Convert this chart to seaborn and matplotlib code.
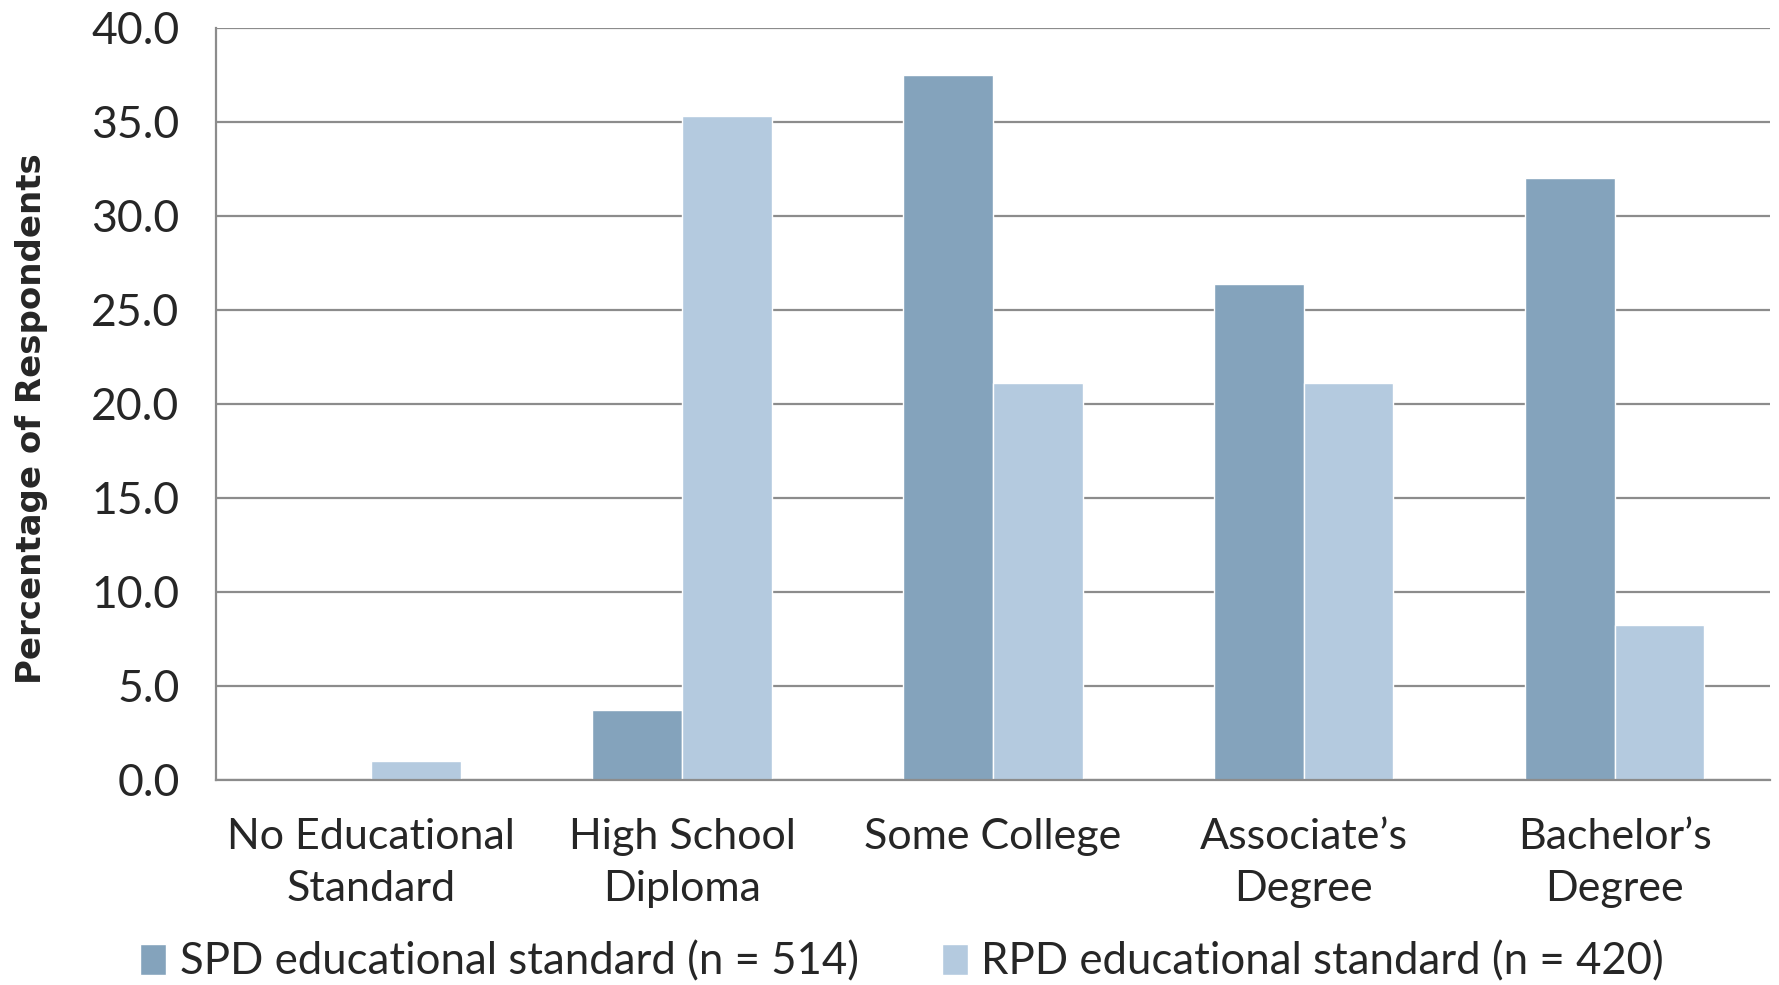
import pandas as pd
import matplotlib
matplotlib.use("Agg")
import matplotlib.pyplot as plt
import seaborn as sns

# values
categories = ["No Educational\nStandard", "High School\nDiploma", "Some College",
              "Associate\u2019s\nDegree", "Bachelor\u2019s\nDegree"]
spd_values = [0.0, 3.7, 37.5, 26.4, 32.0]
rpd_values = [1.0, 35.3, 21.1, 21.1, 8.2]
series_names = ["SPD educational standard (n = 514)", "RPD educational standard (n = 420)"]
colors = ["#84A3BC", "#B4CADF"]
yticks = [0, 5, 10, 15, 20, 25, 30, 35, 40]

df = pd.DataFrame({
    "category": categories * 2,
    "value": spd_values + rpd_values,
    "series": [series_names[0]] * 5 + [series_names[1]] * 5,
})

sns.set_style("white")
plt.rcParams["font.family"] = ["Lato", "DejaVu Sans"]

fig = plt.figure(figsize=(17.79, 9.85), dpi=100)
ax = fig.add_axes([0.1212, 0.2086, 0.8738, 0.763])

sns.barplot(data=df, x="category", y="value", hue="series", order=categories,
            hue_order=series_names, palette=colors, width=0.577, gap=0,
            saturation=1, ax=ax, legend=True)

ax.set_ylim(0, 40)
ax.set_xlim(-0.5, len(categories) - 0.5)
ax.set_yticks(yticks)
ax.set_yticklabels([f"{t:.1f}" for t in yticks], fontsize=32)
ax.yaxis.grid(True, color="#8c8c8c", linewidth=1.6)
ax.set_axisbelow(True)

ax.set_xticks(range(len(categories)))
ax.set_xticklabels(categories, fontsize=31, linespacing=1.45)
ax.tick_params(axis="x", length=0, pad=28)
ax.set_xticks([i - 0.5 for i in range(len(categories) + 1)], minor=True)
ax.tick_params(axis="x", which="minor", length=14, width=1.6, color="#8c8c8c", direction="out")
ax.tick_params(axis="y", length=14, width=1.6, color="#8c8c8c", direction="out", pad=12)

for side in ["top", "right"]:
    ax.spines[side].set_visible(False)
for side in ["left", "bottom"]:
    ax.spines[side].set_color("#8c8c8c")
    ax.spines[side].set_linewidth(1.6)

ax.set_xlabel("")
ax.set_ylabel("Percentage of Respondents", fontsize=24.5, fontweight="bold",
              family="DejaVu Sans", labelpad=24)
ax.yaxis.set_label_coords(-0.108, 0.48)

handles, labels = ax.get_legend_handles_labels()
ax.get_legend().remove()
fig.legend(handles, labels, loc="center", bbox_to_anchor=(0.507, 0.023), ncol=2,
           frameon=False, fontsize=31.5, handlelength=0.6, handleheight=0.7,
           handletextpad=0.3, columnspacing=1.9)

fig.savefig("out.png", dpi=100)
